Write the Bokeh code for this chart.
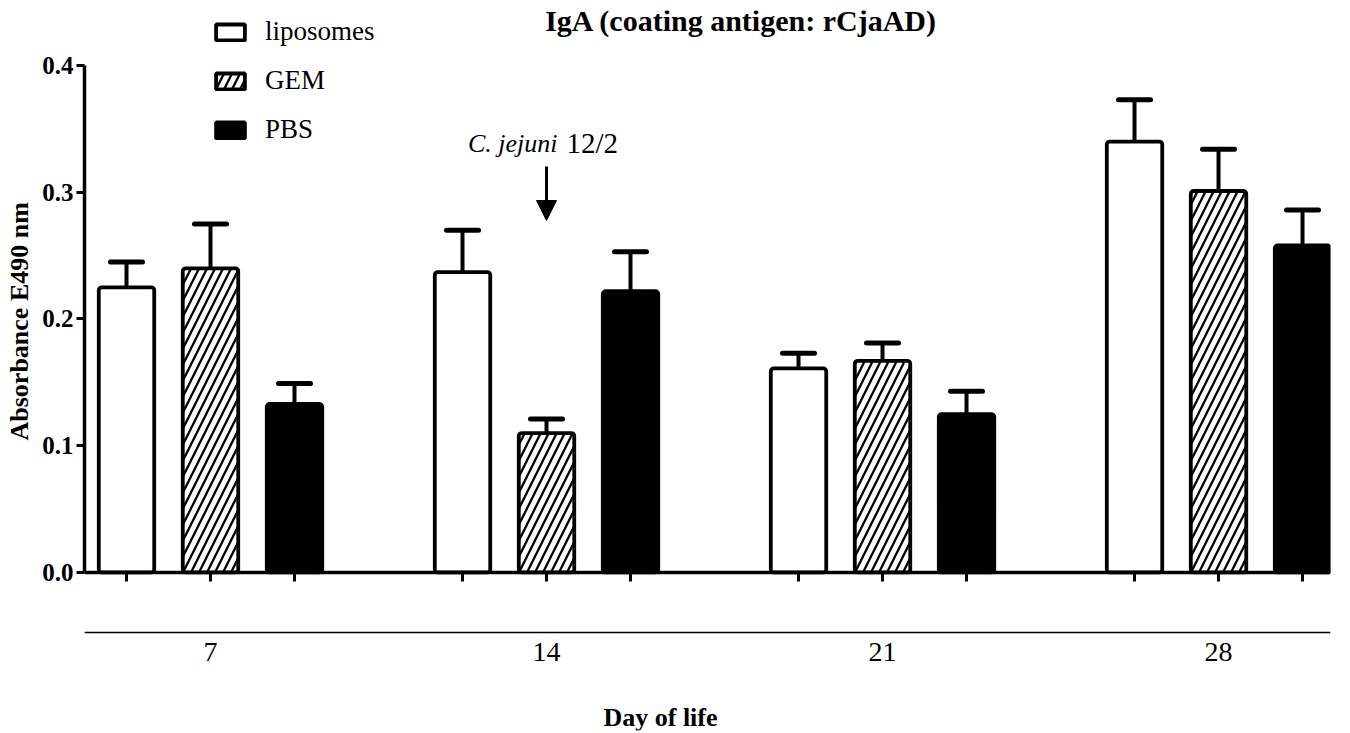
from bokeh.plotting import figure
from bokeh.models import (LinearAxis, FixedTicker, Range1d, ColumnDataSource, Whisker,
                          TeeHead, Arrow, NormalHead, Legend, LegendItem, Label, Title,
                          NumeralTickFormatter)
from bokeh.embed import file_html
from bokeh.resources import INLINE

# ---- data ----
days = ["7", "14", "21", "28"]
groups = ["liposomes", "GEM", "PBS"]
liposomes = [0.225, 0.237, 0.161, 0.340]
liposomes_err = [0.020, 0.033, 0.012, 0.033]
gem = [0.240, 0.110, 0.167, 0.301]
gem_err = [0.035, 0.011, 0.014, 0.033]
pbs = [0.133, 0.222, 0.125, 0.258]
pbs_err = [0.016, 0.031, 0.018, 0.028]
y_ticks = [0.0, 0.1, 0.2, 0.3, 0.4]
title_text = "IgA (coating antigen: rCjaAD)"
y_label = "Absorbance E490 nm"
x_label = "Day of life"

FONT = "Liberation Serif"
n_groups = len(days)
slot = len(groups) + 1  # 3 bars + gap

def positions(j):
    return [slot * i + 1 + j for i in range(n_groups)]

all_pos = sorted(p for j in range(len(groups)) for p in positions(j))
centers = positions(1)

DAY_AXIS_Y = -0.0473   # level of the day axis line, below the bars

p = figure(width=1346, height=732,
           x_range=Range1d(0.5, 15.333), y_range=Range1d(-0.1247, 0.4434),
           output_backend="svg", toolbar_location=None,
           x_axis_location=None, y_axis_location=None,
           min_border_left=84, min_border_right=16, min_border_top=10,
           min_border_bottom=2)
p.grid.visible = False
p.outline_line_color = None

# y axis
yaxis = LinearAxis(ticker=FixedTicker(ticks=y_ticks), bounds=(0, 0.4),
                   formatter=NumeralTickFormatter(format="0.0"))
yaxis.axis_line_width = 3.5
yaxis.major_tick_line_width = 3
yaxis.major_tick_out = 8
yaxis.major_tick_in = 0
yaxis.minor_tick_out = 0
yaxis.minor_tick_in = 0
yaxis.major_label_standoff = 3
yaxis.major_label_text_font = FONT
yaxis.major_label_text_font_style = "bold"
yaxis.major_label_text_font_size = "25px"
yaxis.major_label_text_color = "black"
p.add_layout(yaxis, "left")

# y axis title
yt = Title(text=y_label, align="left", offset=290, vertical_align="top",
           standoff=8, text_font=FONT, text_font_style="bold",
           text_font_size="26px", text_color="black")
p.add_layout(yt, "left")

# main x axis (ticks only) fixed at y=0
xaxis = LinearAxis(ticker=FixedTicker(ticks=all_pos), fixed_location=0)
xaxis.axis_line_width = 3.5
xaxis.major_tick_line_width = 3
xaxis.major_tick_out = 9
xaxis.major_tick_in = 0
xaxis.minor_tick_out = 0
xaxis.minor_tick_in = 0
xaxis.major_label_text_color = None
p.add_layout(xaxis, "below")

# day axis
daxis = LinearAxis(ticker=FixedTicker(ticks=centers), fixed_location=DAY_AXIS_Y,
                   major_label_overrides={c: d for c, d in zip(centers, days)})
daxis.axis_line_width = 1.5
daxis.major_tick_out = 0
daxis.major_tick_in = 0
daxis.minor_tick_out = 0
daxis.minor_tick_in = 0
daxis.major_label_standoff = 11
daxis.major_label_text_font = FONT
daxis.major_label_text_font_size = "28px"
daxis.major_label_text_color = "black"
p.add_layout(daxis, "below")

series = [liposomes, gem, pbs]
errors = [liposomes_err, gem_err, pbs_err]
styles = [dict(fill_color="white"),
          dict(fill_color="white", hatch_pattern="/", hatch_scale=16,
               hatch_weight=2.3, hatch_color="black"),
          dict(fill_color="black")]

items = []
for j, (name, vals, errs, st) in enumerate(zip(groups, series, errors, styles)):
    src = ColumnDataSource(dict(x=positions(j), top=vals,
                                upper=[v + e for v, e in zip(vals, errs)]))
    w = Whisker(source=src, base="x", lower="top", upper="upper",
                dimension="height", line_width=4, line_color="black",
                upper_head=TeeHead(size=32, line_width=5, line_color="black",
                                   line_cap="round"),
                lower_head=None)
    p.add_layout(w)
    r = p.vbar(x="x", top="top", bottom=0, width=0.66, source=src,
               line_color="black", line_width=3.8, border_radius=3, **st)
    items.append(LegendItem(label=name, renderers=[r]))

legend = Legend(items=items, location=(128, 585))
legend.glyph_width = 36
legend.glyph_height = 20
legend.label_standoff = 17
legend.spacing = 18
legend.padding = 0
legend.margin = 0
legend.border_line_alpha = 0
legend.background_fill_alpha = 0
legend.label_text_font = FONT
legend.label_text_font_size = "27px"
legend.label_text_color = "black"
p.add_layout(legend, "center")

# title
p.add_layout(Label(x=8.32, y=0.4355, text=title_text, text_align="center",
                   text_baseline="middle", text_font=FONT, text_font_style="bold",
                   text_font_size="30px", text_color="black"))

# x axis title
p.add_layout(Label(x=7.357, y=-0.1144, text=x_label, text_align="center",
                   text_baseline="middle", text_font=FONT, text_font_style="bold",
                   text_font_size="26px", text_color="black"))

# annotation
p.add_layout(Arrow(x_start=6, y_start=0.3203, x_end=6, y_end=0.2777,
                   line_width=3, line_color="black",
                   end=NormalHead(size=20, fill_color="black", line_color="black")))
p.add_layout(Label(x=6, y=0.3385, text="C. jejuni", text_align="right",
                   text_baseline="middle", x_offset=11, text_font=FONT,
                   text_font_style="italic", text_font_size="26px", text_color="black"))
p.add_layout(Label(x=6, y=0.3385, text="12/2", text_align="left",
                   text_baseline="middle", x_offset=20, text_font=FONT,
                   text_font_size="29px", text_color="black"))

open("out.html", "w").write(file_html(p, INLINE))
